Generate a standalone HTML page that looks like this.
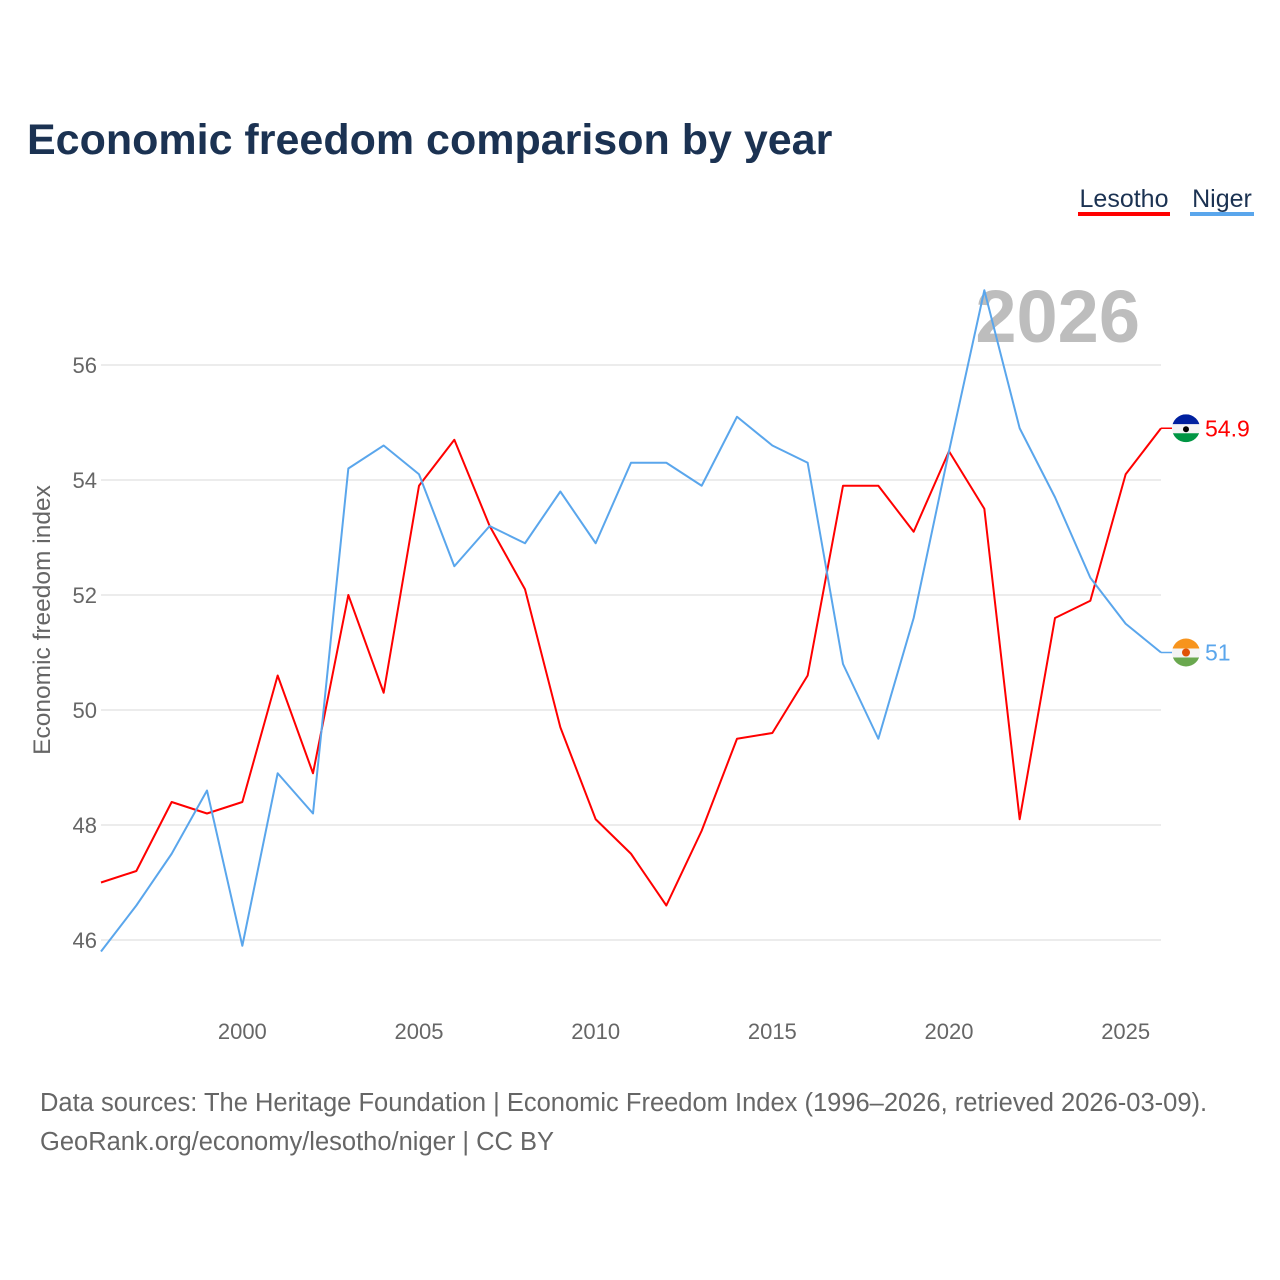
<!DOCTYPE html>
<html><head><meta charset="utf-8">
<style>
body{margin:0;background:#fff;width:1280px;height:1280px;overflow:hidden;font-family:"Liberation Sans",sans-serif;}
svg{display:block}
</style></head>
<body>
<svg id="chart" width="1280" height="1280">
<text x="27" y="154" font-size="43" font-weight="bold" fill="#1b3252">Economic freedom comparison by year</text>
<g>
<text x="1124" y="207" font-size="25" fill="#1b3252" text-anchor="middle">Lesotho</text>
<rect x="1078" y="212" width="92" height="4" fill="#ff0000"/>
<text x="1222" y="207" font-size="25" fill="#1b3252" text-anchor="middle">Niger</text>
<rect x="1190" y="212" width="64" height="4" fill="#5aa6ec"/>
</g>
<text x="1140" y="342" font-size="74" font-weight="bold" fill="#bdbdbd" text-anchor="end">2026</text>
<g id="grid"></g>
<g id="xticks"></g>
<g id="lines"></g>
<text transform="translate(50,620) rotate(-90)" font-size="24.5" fill="#666" text-anchor="middle">Economic freedom index</text>
<text x="40" y="1111" font-size="25.5" fill="#666">Data sources: The Heritage Foundation | Economic Freedom Index (1996–2026, retrieved 2026-03-09).</text>
<text x="40" y="1150" font-size="25.5" fill="#666">GeoRank.org/economy/lesotho/niger | CC BY</text>
</svg>
<script>
const years=[1996,1997,1998,1999,2000,2001,2002,2003,2004,2005,2006,2007,2008,2009,2010,2011,2012,2013,2014,2015,2016,2017,2018,2019,2020,2021,2022,2023,2024,2025,2026];
const lesotho=[47.0,47.2,48.4,48.2,48.4,50.6,48.9,52.0,50.3,53.9,54.7,53.2,52.1,49.7,48.1,47.5,46.6,47.9,49.5,49.6,50.6,53.9,53.9,53.1,54.5,53.5,48.1,51.6,51.9,54.1,54.9];
const niger=[45.8,46.6,47.5,48.6,45.9,48.9,48.2,54.2,54.6,54.1,52.5,53.2,52.9,53.8,52.9,54.3,54.3,53.9,55.1,54.6,54.3,50.8,49.5,51.6,54.5,57.3,54.9,53.7,52.3,51.5,51.0];
const yTicks=[46,48,50,52,54,56];
const xTicks=[2000,2005,2010,2015,2020,2025];
const NS="http://www.w3.org/2000/svg";
const x=y=>101+(y-1996)*(1060/30);
const yv=v=>940-(v-46)*57.5;
function el(tag,attrs,parent){const e=document.createElementNS(NS,tag);for(const k in attrs)e.setAttribute(k,attrs[k]);parent.appendChild(e);return e;}
const grid=document.getElementById('grid');
yTicks.forEach(t=>{
  const l=el('line',{x1:101,x2:1161,y1:yv(t),y2:yv(t),stroke:'#e6e6e6','stroke-width':1.5},grid);
  
  
  const tx=el('text',{x:97,y:yv(t)+8,'font-size':22,fill:'#666','text-anchor':'end'},grid);
  tx.textContent=t;
  
  
});
const xt=document.getElementById('xticks');
xTicks.forEach(t=>{
  const tx=el('text',{x:x(t),y:1039,'font-size':22,fill:'#666','text-anchor':'middle'},xt);
  tx.textContent=t;
  
  
});
const lines=document.getElementById('lines');
function series(vals,color,name){
  const p=el('polyline',{points:vals.map((v,i)=>x(years[i])+','+yv(v)).join(' '),fill:'none',stroke:color,'stroke-width':2,'stroke-linejoin':'round'},lines);
  
  
  const last=vals[vals.length-1];
  const ly=yv(last);
  el('line',{x1:1161,x2:1172,y1:ly,y2:ly,stroke:color,'stroke-width':1.5},lines);
  const t=el('text',{x:1205,y:ly+8,'font-size':23,fill:color},lines);
  t.textContent=last;
  
  
  return ly;
}
const lyL=series(lesotho,'#ff0000','lesotho');
const lyN=series(niger,'#5aa6ec','niger');
function flag(cy,cols,name,dot){
  const g=el('g',{},lines);
  
  
  const id='c'+name;
  const cp=el('clipPath',{id:id},g);el('circle',{cx:1186,cy:cy,r:14},cp);
  const gg=el('g',{'clip-path':'url(#'+id+')'},g);
  el('rect',{x:1172,y:cy-14,width:28,height:10,fill:cols[0]},gg);
  el('rect',{x:1172,y:cy-4,width:28,height:9,fill:cols[1]},gg);
  el('rect',{x:1172,y:cy+5,width:28,height:9,fill:cols[2]},gg);
  el('circle',{cx:1186,cy:cy+(dot?0:1),r:dot?4:3,fill:dot?'#e05206':'#000'},gg);
}
flag(lyL,['#00209f','#f4f4f4','#009543'],'lesotho',false);
flag(lyN,['#f7941d','#f4f4f4','#6aa84f'],'niger',true);
</script>
</body></html>
